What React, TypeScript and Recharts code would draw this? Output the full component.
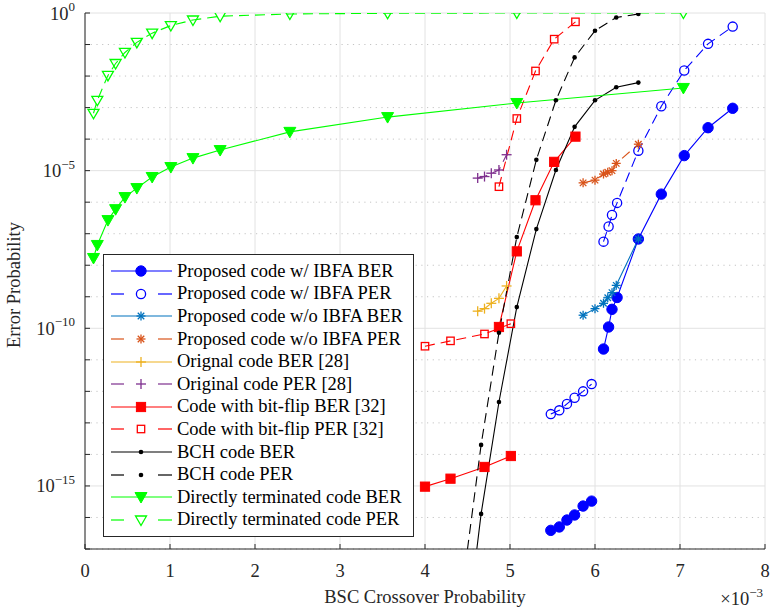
import React from "react"
import {
  LineChart,
  Line,
  XAxis,
  YAxis,
  CartesianGrid,
  ReferenceLine,
  Legend,
} from "recharts"

if (typeof document !== "undefined") document.body.style.margin = "0"

const FONT = "'Liberation Serif', 'Times New Roman', serif"

// x values are BSC crossover probability in units of 1e-3; null marks a break in the curve
const ibfaX = [5.48, 5.58, 5.67, 5.76, 5.86, 5.96, null, 6.1, 6.16, 6.2, 6.26, 6.51, 6.78, 7.05, 7.33, 7.62]
const ibfaBer = [3.9e-17, 5.0e-17, 8.3e-17, 1.2e-16, 2.3e-16, 3.3e-16, null, 2.2e-11, 1.1e-10, 4.0e-10, 9.5e-10, 6.8e-8, 1.8e-6, 3.0e-5, 2.3e-4, 9.5e-4]
const ibfaPer = [1.9e-13, 2.5e-13, 4.0e-13, 6.3e-13, 1.0e-12, 1.7e-12, null, 5.6e-8, 1.7e-7, 3.9e-7, 9.5e-7, 4.3e-5, 1.1e-3, 1.5e-2, 0.105, 0.37]

const noIbfaX = [5.86, 6.0, 6.1, 6.15, 6.2, 6.25, 6.51]
const noIbfaBer = [2.6e-10, 4.2e-10, 6.2e-10, 9.3e-10, 1.35e-9, 2.3e-9, 6.8e-8]
const noIbfaPer = [4.1e-6, 5.0e-6, 7.8e-6, 8.9e-6, 1.0e-5, 1.7e-5, 6.9e-5]

const origX = [4.62, 4.7, 4.78, 4.87, 4.96]
const origBer = [3.5e-10, 4.2e-10, 6.2e-10, 8.9e-10, 2.2e-9]
const origPer = [5.8e-6, 6.5e-6, 8.3e-6, 1.05e-5, 3.2e-5]

const flipX = [4.0, 4.3, 4.7, 5.01, null, 4.87, 5.08, 5.3, 5.52, 5.77]
const flipBer = [9.5e-16, 1.7e-15, 4.0e-15, 8.9e-15, null, 1.1e-10, 2.75e-8, 1.15e-6, 1.9e-5, 1.2e-4]
const flipPer = [2.7e-11, 4.0e-11, 6.6e-11, 1.4e-10, null, 3.1e-6, 4.5e-4, 1.45e-2, 0.148, 0.525]

const bchX = [4.45, 4.66, 4.87, 5.08, 5.31, 5.54, 5.76, 6.0, 6.25, 6.51]
const bchBer = [2.8e-21, 1.3e-16, 4.6e-13, 4.7e-10, 1.4e-7, 1.05e-5, 2.45e-4, 1.7e-3, 4.4e-3, 6.2e-3]
const bchPer = [9.3e-19, 2.0e-14, 7.2e-11, 7.8e-8, 2.2e-5, 1.7e-3, 3.9e-2, 0.275, 0.72, 0.93]

const directX = [0.1, 0.145, 0.27, 0.36, 0.47, 0.61, 0.79, 1.01, 1.27, 1.59, 2.41, 3.56, 5.08, 7.04]
const directBer = [1.7e-8, 4.4e-8, 2.7e-7, 6.0e-7, 1.45e-6, 2.8e-6, 6.3e-6, 1.3e-5, 2.5e-5, 4.5e-5, 1.7e-4, 5.0e-4, 1.4e-3, 4.2e-3]
const directPer = [6.6e-4, 1.7e-3, 1.05e-2, 2.5e-2, 5.6e-2, 0.117, 0.23, 0.4, 0.6, 0.79, 0.93, 0.98, 1.0, 1.0]

const X_TICKS = [0, 1, 2, 3, 4, 5, 6, 7, 8]
const Y_TICKS = [1e-17, 1e-16, 1e-15, 1e-14, 1e-13, 1e-12, 1e-11, 1e-10, 1e-9, 1e-8, 1e-7, 1e-6, 1e-5, 1e-4, 1e-3, 1e-2, 1e-1, 1]

type MarkerKind = "disc" | "ring" | "star" | "plus" | "sqFill" | "sqOpen" | "point" | "triFill" | "triOpen"

type SeriesDef = {
  name: string
  color: string
  dashed: boolean
  marker: MarkerKind
  xs: (number | null)[]
  ys: (number | null)[]
}

const SERIES: SeriesDef[] = [
  { name: "Proposed code w/ IBFA BER", color: "#0000FF", dashed: false, marker: "disc", xs: ibfaX, ys: ibfaBer },
  { name: "Proposed code w/ IBFA PER", color: "#0000FF", dashed: true, marker: "ring", xs: ibfaX, ys: ibfaPer },
  { name: "Proposed code w/o IBFA BER", color: "#0072BD", dashed: false, marker: "star", xs: noIbfaX, ys: noIbfaBer },
  { name: "Proposed code w/o IBFA PER", color: "#D95319", dashed: true, marker: "star", xs: noIbfaX, ys: noIbfaPer },
  { name: "Orignal code BER [28]", color: "#EDB120", dashed: false, marker: "plus", xs: origX, ys: origBer },
  { name: "Original code PER [28]", color: "#7E2F8E", dashed: true, marker: "plus", xs: origX, ys: origPer },
  { name: "Code with bit-flip BER [32]", color: "#FF0000", dashed: false, marker: "sqFill", xs: flipX, ys: flipBer },
  { name: "Code with bit-flip PER [32]", color: "#FF0000", dashed: true, marker: "sqOpen", xs: flipX, ys: flipPer },
  { name: "BCH code BER", color: "#000000", dashed: false, marker: "point", xs: bchX, ys: bchBer },
  { name: "BCH code PER", color: "#000000", dashed: true, marker: "point", xs: bchX, ys: bchPer },
  { name: "Directly terminated code BER", color: "#00FF00", dashed: false, marker: "triFill", xs: directX, ys: directBer },
  { name: "Directly terminated code PER", color: "#00FF00", dashed: true, marker: "triOpen", xs: directX, ys: directPer },
]

function toPoints(xs: (number | null)[], ys: (number | null)[]) {
  return xs.map((x, i) => ({ x: x ?? xs[i + 1] ?? 0, y: ys[i] }))
}

function Marker({ kind, cx, cy, color }: { kind: MarkerKind; cx: number; cy: number; color: string }) {
  const sw = 1.3
  switch (kind) {
    case "disc":
      return <circle cx={cx} cy={cy} r={5.2} fill={color} stroke={color} />
    case "ring":
      return <circle cx={cx} cy={cy} r={4.6} fill="none" stroke={color} strokeWidth={sw} />
    case "star": {
      const r = 4.5
      const d = r * 0.72
      return (
        <g stroke={color} strokeWidth={sw}>
          <line x1={cx - r} y1={cy} x2={cx + r} y2={cy} />
          <line x1={cx} y1={cy - r} x2={cx} y2={cy + r} />
          <line x1={cx - d} y1={cy - d} x2={cx + d} y2={cy + d} />
          <line x1={cx - d} y1={cy + d} x2={cx + d} y2={cy - d} />
        </g>
      )
    }
    case "plus": {
      const r = 5
      return (
        <g stroke={color} strokeWidth={sw}>
          <line x1={cx - r} y1={cy} x2={cx + r} y2={cy} />
          <line x1={cx} y1={cy - r} x2={cx} y2={cy + r} />
        </g>
      )
    }
    case "sqFill":
      return <rect x={cx - 4.6} y={cy - 4.6} width={9.2} height={9.2} fill={color} stroke={color} />
    case "sqOpen":
      return <rect x={cx - 3.7} y={cy - 3.7} width={7.4} height={7.4} fill="none" stroke={color} strokeWidth={sw} />
    case "point":
      return <circle cx={cx} cy={cy} r={2.3} fill={color} />
    case "triFill":
      return <polygon points={`${cx - 6},${cy - 4.5} ${cx + 6},${cy - 4.5} ${cx},${cy + 6}`} fill={color} stroke={color} />
    case "triOpen":
      return (
        <polygon points={`${cx - 5.5},${cy - 4} ${cx + 5.5},${cy - 4} ${cx},${cy + 5.5}`} fill="none" stroke={color} strokeWidth={sw} />
      )
  }
  return null
}

function XTick(props: any) {
  const { x, y, payload } = props
  return (
    <text x={x} y={y + 33} textAnchor="middle" fontFamily={FONT} fontSize={18.5} fill="#262626">
      {payload.value}
    </text>
  )
}

function YTick(props: any) {
  const { x, y, payload } = props
  const exp = Math.round(Math.log10(payload.value))
  if (exp % 5 !== 0) return <g />
  const sup = exp === 0 ? "0" : `\u2212${-exp}`
  return (
    <text x={x - 15} y={y + 6.5} textAnchor="end" fontFamily={FONT} fontSize={18.5} fill="#262626">
      <tspan>10</tspan>
      <tspan dy={-8.5} fontSize={13}>
        {sup}
      </tspan>
    </text>
  )
}

function LegendBox() {
  return (
    <div
      style={{
        width: 309,
        height: 276,
        border: "1px solid #262626",
        background: "#fff",
        paddingTop: 5,
        boxSizing: "content-box",
        fontFamily: FONT,
        fontSize: 18.5,
        color: "#000",
      }}
    >
      {SERIES.map((s) => (
        <div key={s.name} style={{ display: "flex", alignItems: "center", height: 22.6 }}>
          <svg width={73} height={22} style={{ flex: "none" }}>
            {s.dashed ? (
              <g stroke={s.color} strokeWidth={1.2}>
                <line x1={7} y1={11} x2={20} y2={11} />
                <line x1={54} y1={11} x2={68} y2={11} />
              </g>
            ) : (
              <line x1={7} y1={11} x2={68} y2={11} stroke={s.color} strokeWidth={1.2} />
            )}
            <Marker kind={s.marker} cx={37} cy={11} color={s.color} />
          </svg>
          <span style={{ whiteSpace: "nowrap" }}>{s.name}</span>
        </div>
      ))}
    </div>
  )
}

export default function App() {
  return (
    <LineChart width={770} height={609} margin={{ top: 13, right: 5, bottom: 0, left: 0 }}>
      <CartesianGrid horizontal={false} stroke="#e2e2e2" strokeWidth={1} />
      {Y_TICKS.map((v) => {
        const exp = Math.round(Math.log10(v))
        const major = exp % 5 === 0
        return (
          <ReferenceLine
            key={v}
            y={v}
            stroke={major ? "#e2e2e2" : "#c4c4c4"}
            strokeDasharray={major ? undefined : "1.2 4.5"}
            strokeWidth={1}
          />
        )
      })}
      <XAxis
        dataKey="x"
        type="number"
        domain={[0, 8]}
        ticks={X_TICKS}
        height={60}
        tickSize={-5}
        tickMargin={0}
        tick={<XTick />}
        stroke="#262626"
        label={(p: any) => {
          const vb = p.viewBox
          return (
            <g fontFamily={FONT} fill="#262626">
              <text x={vb.x + vb.width / 2} y={vb.y + 54} textAnchor="middle" fontSize={18.5}>
                BSC Crossover Probability
              </text>
              <text x={vb.x + vb.width - 2} y={vb.y + 56} textAnchor="end" fontSize={18.5}>
                <tspan>{"\u00d710"}</tspan>
                <tspan dy={-8.5} fontSize={13}>
                  {"\u22123"}
                </tspan>
              </text>
            </g>
          )
        }}
      />
      <XAxis
        xAxisId="top"
        orientation="top"
        type="number"
        domain={[0, 8]}
        ticks={X_TICKS}
        height={0}
        tickSize={-5}
        tick={false}
        stroke="#262626"
      />
      <YAxis
        type="number"
        scale="log"
        domain={[1e-17, 1]}
        ticks={Y_TICKS}
        allowDataOverflow
        width={85}
        tickSize={-5}
        tickMargin={0}
        tick={<YTick />}
        stroke="#262626"
        label={(p: any) => {
          const vb = p.viewBox
          const cx = 14
          const cy = vb.y + vb.height / 2 + 4
          return (
            <text
              x={cx}
              y={cy}
              transform={`rotate(-90 ${cx} ${cy})`}
              textAnchor="middle"
              dominantBaseline="central"
              fontFamily={FONT}
              fontSize={18.5}
              fill="#262626"
            >
              Error Probability
            </text>
          )
        }}
      />
      <YAxis
        yAxisId="right"
        orientation="right"
        type="number"
        scale="log"
        domain={[1e-17, 1]}
        ticks={Y_TICKS}
        allowDataOverflow
        width={0}
        tickSize={-5}
        tick={false}
        stroke="#262626"
      />
      {SERIES.map((s) => (
        <Line
          key={s.name}
          name={s.name}
          data={toPoints(s.xs, s.ys)}
          dataKey="y"
          type="linear"
          stroke={s.color}
          strokeWidth={1.1}
          strokeDasharray={s.dashed ? "10 6" : undefined}
          isAnimationActive={false}
          connectNulls={false}
          activeDot={false}
          dot={(p: any) => {
            if (p.cx == null || p.cy == null || p.value == null)
              return <g key={`${s.name}-${p.index}`} />
            return (
              <g key={`${s.name}-${p.index}`}>
                <Marker kind={s.marker} cx={p.cx} cy={p.cy} color={s.color} />
              </g>
            )
          }}
        />
      ))}
      <Legend
        layout="vertical"
        align="center"
        verticalAlign="middle"
        wrapperStyle={{ left: 103, top: 254, width: 311, height: 282 }}
        content={() => <LegendBox />}
      />
    </LineChart>
  )
}
